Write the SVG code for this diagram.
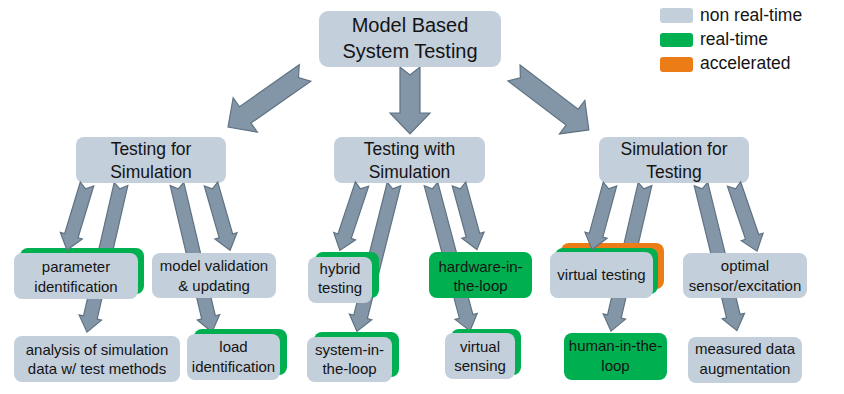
<svg xmlns="http://www.w3.org/2000/svg" width="844" height="394" viewBox="0 0 844 394">
  <style>
    .box { fill: #c3cfdb; }
    .rt { fill: #00b050; }
    .acc { fill: #ec7c16; }
    .arrow { fill: #8396a8; stroke: #5f7282; stroke-width: 1.2; stroke-linejoin: miter; }
    text { font-family: "Liberation Sans", Arial, sans-serif; fill: #141414; text-anchor: middle; }
    .t1 { font-size: 20px; }
    .t2 { font-size: 17.5px; }
    .t3 { font-size: 15px; }
    .lg { font-size: 17.5px; text-anchor: start; }
  </style>

  <rect width="844" height="394" fill="#ffffff"/>

  <!-- block arrows that run underneath the boxes -->
  <g id="connectors">
    <!-- top level to second level -->
    <polygon class="arrow" transform="translate(305,73) rotate(144.96)" points="0,-10 73,-10 73,-21 94,0 73,21 73,10 0,10 8,0"/>
    <polygon class="arrow" transform="translate(410,67) rotate(90)" points="0,-10 46,-10 46,-20 67,0 46,20 46,10 0,10 8,0"/>
    <polygon class="arrow" transform="translate(514,73) rotate(37.23)" points="0,-10 73,-10 73,-21 94,0 73,21 73,10 0,10 8,0"/>
    <!-- long arrows to the bottom row -->
    <polygon class="arrow" transform="translate(121,184) rotate(102.94)" points="0,-7 137,-7 137,-11.5 152,0 137,11.5 137,7 0,7 5,0"/>
    <polygon class="arrow" transform="translate(177,184) rotate(76.70)" points="0,-7 137,-7 137,-11.5 152,0 137,11.5 137,7 0,7 5,0"/>
    <polygon class="arrow" transform="translate(394,184) rotate(104.13)" points="0,-7 137,-7 137,-11.5 152,0 137,11.5 137,7 0,7 5,0"/>
    <polygon class="arrow" transform="translate(431,184) rotate(75.14)" points="0,-7 137,-7 137,-11.5 152,0 137,11.5 137,7 0,7 5,0"/>
    <polygon class="arrow" transform="translate(645,184) rotate(103.02)" points="0,-7 136,-7 136,-11.5 151,0 136,11.5 136,7 0,7 5,0"/>
    <polygon class="arrow" transform="translate(701,184) rotate(76.24)" points="0,-7 136,-7 136,-11.5 151,0 136,11.5 136,7 0,7 5,0"/>
  </g>

  <!-- top level -->
  <g id="mbst">
    <rect class="box" x="319" y="11" width="182" height="56" rx="9"/>
    <text class="t1" x="410" y="32">Model Based</text>
    <text class="t1" x="410" y="58">System Testing</text>
  </g>

  <!-- second level -->
  <g id="testing-for-simulation">
    <rect class="box" x="76" y="137" width="150" height="46" rx="8"/>
    <text class="t2" x="151" y="155">Testing for</text>
    <text class="t2" x="151" y="178">Simulation</text>
  </g>
  <g id="testing-with-simulation">
    <rect class="box" x="334" y="137" width="151" height="46" rx="8"/>
    <text class="t2" x="409.5" y="155">Testing with</text>
    <text class="t2" x="409.5" y="178">Simulation</text>
  </g>
  <g id="simulation-for-testing">
    <rect class="box" x="599" y="137" width="150" height="46" rx="8"/>
    <text class="t2" x="674" y="155">Simulation for</text>
    <text class="t2" x="674" y="178">Testing</text>
  </g>

  <!-- third level: testing for simulation -->
  <g id="parameter-identification">
    <rect class="rt" x="20" y="248" width="124" height="46" rx="8"/>
    <rect class="box" x="14" y="253" width="124" height="46" rx="8"/>
    <text class="t3" x="76" y="272">parameter</text>
    <text class="t3" x="76" y="292">identification</text>
  </g>
  <g id="model-validation">
    <rect class="box" x="152" y="253" width="124" height="45" rx="8"/>
    <text class="t3" x="214" y="271">model validation</text>
    <text class="t3" x="214" y="291">&amp; updating</text>
  </g>
  <g id="analysis-of-simulation-data">
    <rect class="box" x="14" y="336" width="166" height="46" rx="8"/>
    <text class="t3" x="97" y="355">analysis of simulation</text>
    <text class="t3" x="97" y="374">data w/ test methods</text>
  </g>
  <g id="load-identification">
    <rect class="rt" x="194" y="329" width="93" height="46" rx="8"/>
    <rect class="box" x="187" y="334" width="93" height="46" rx="8"/>
    <text class="t3" x="233.5" y="352">load</text>
    <text class="t3" x="233.5" y="372">identification</text>
  </g>

  <!-- third level: testing with simulation -->
  <g id="hybrid-testing">
    <rect class="rt" x="315" y="252" width="64" height="46" rx="8"/>
    <rect class="box" x="308" y="257" width="64" height="46" rx="8"/>
    <text class="t3" x="340" y="274">hybrid</text>
    <text class="t3" x="340" y="293">testing</text>
  </g>
  <g id="hardware-in-the-loop">
    <rect class="rt" x="429" y="252" width="103" height="46" rx="8"/>
    <text class="t3" x="480.5" y="272">hardware-in-</text>
    <text class="t3" x="480.5" y="291">the-loop</text>
  </g>
  <g id="system-in-the-loop">
    <rect class="rt" x="314" y="332" width="85" height="45" rx="8"/>
    <rect class="box" x="307" y="337" width="85" height="45" rx="8"/>
    <text class="t3" x="349.5" y="355">system-in-</text>
    <text class="t3" x="349.5" y="374">the-loop</text>
  </g>
  <g id="virtual-sensing">
    <rect class="rt" x="451" y="329" width="70" height="46" rx="8"/>
    <rect class="box" x="445" y="333" width="70" height="46" rx="8"/>
    <text class="t3" x="480" y="352">virtual</text>
    <text class="t3" x="480" y="371">sensing</text>
  </g>

  <!-- third level: simulation for testing -->
  <g id="virtual-testing">
    <rect class="acc" x="561" y="243" width="103" height="46" rx="8"/>
    <rect class="rt" x="555" y="248" width="103" height="46" rx="8"/>
    <rect class="box" x="550" y="252" width="103" height="46" rx="8"/>
    <text class="t3" x="601.5" y="280">virtual testing</text>
  </g>
  <g id="optimal-sensor-excitation">
    <rect class="box" x="683" y="253" width="124" height="45" rx="8"/>
    <text class="t3" x="745" y="271">optimal</text>
    <text class="t3" x="745" y="291">sensor/excitation</text>
  </g>
  <g id="human-in-the-loop">
    <rect class="rt" x="564" y="333" width="103" height="47" rx="8"/>
    <text class="t3" x="615.5" y="351">human-in-the-</text>
    <text class="t3" x="615.5" y="371">loop</text>
  </g>
  <g id="measured-data-augmentation">
    <rect class="box" x="688" y="337" width="114" height="46" rx="8"/>
    <text class="t3" x="745" y="354">measured data</text>
    <text class="t3" x="745" y="374">augmentation</text>
  </g>

  <!-- short block arrows that end on top of the boxes -->
  <g id="connectors-front">
    <polygon class="arrow" transform="translate(87,184) rotate(106.86)" points="0,-7 54,-7 54,-11.5 69,0 54,11.5 54,7 0,7 5,0"/>
    <polygon class="arrow" transform="translate(211,184) rotate(73.94)" points="0,-7 54,-7 54,-11.5 69,0 54,11.5 54,7 0,7 5,0"/>
    <polygon class="arrow" transform="translate(362,184) rotate(108.43)" points="0,-7 55,-7 55,-11.5 70,0 55,11.5 55,7 0,7 5,0"/>
    <polygon class="arrow" transform="translate(459,184) rotate(74.74)" points="0,-7 53,-7 53,-11.5 68,0 53,11.5 53,7 0,7 5,0"/>
    <polygon class="arrow" transform="translate(610,184) rotate(105.26)" points="0,-7 53,-7 53,-11.5 68,0 53,11.5 53,7 0,7 5,0"/>
    <polygon class="arrow" transform="translate(734,184) rotate(71.05)" points="0,-7 56,-7 56,-11.5 71,0 56,11.5 56,7 0,7 5,0"/>
  </g>

  <!-- legend -->
  <g id="legend">
    <rect class="box" x="660" y="8" width="33" height="15" rx="3"/>
    <text class="lg" x="700" y="21">non real-time</text>
    <rect class="rt" x="660" y="33" width="33" height="14" rx="3"/>
    <text class="lg" x="700" y="45">real-time</text>
    <rect class="acc" x="660" y="57" width="33" height="15" rx="3"/>
    <text class="lg" x="700" y="69">accelerated</text>
  </g>
</svg>
